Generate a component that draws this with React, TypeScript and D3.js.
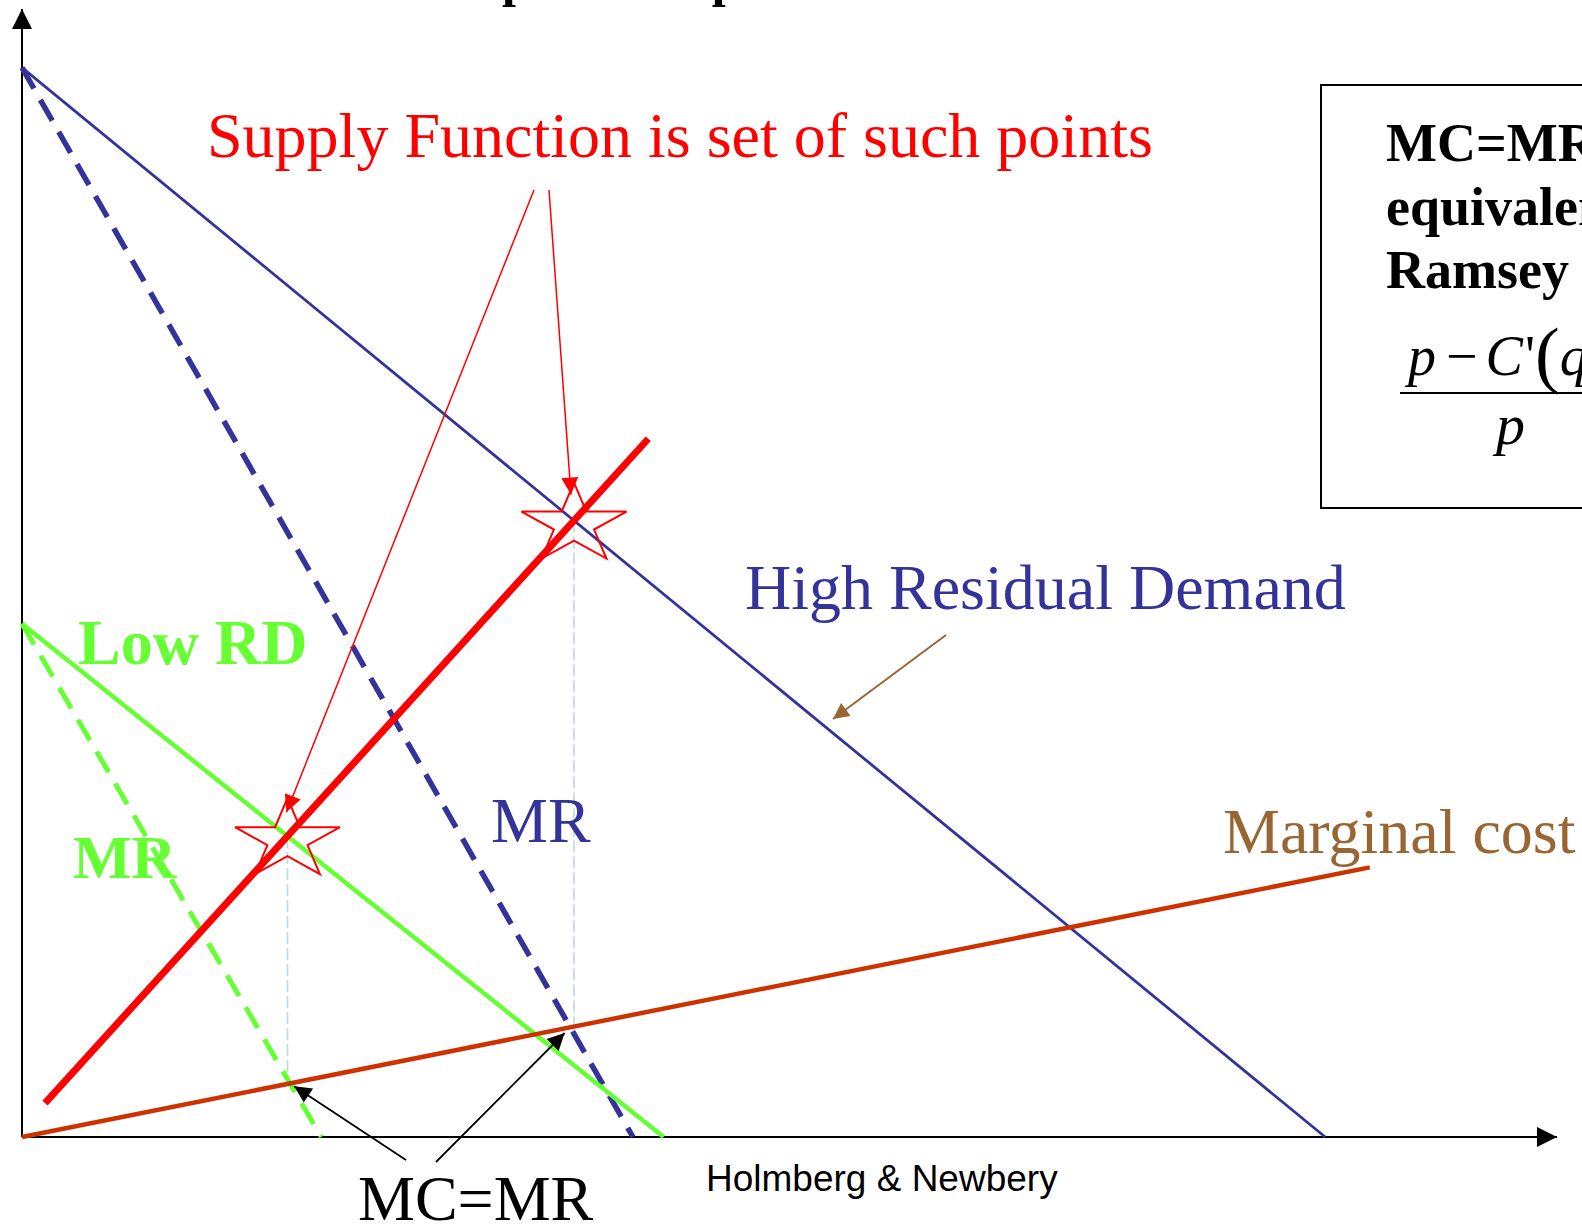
import React from 'react';
import * as d3 from 'd3';

// Diagram units: quantity q on the x axis, price p on the y axis (0..100 each)
interface Pt {
  q: number;
  p: number;
}

const axisMax = 100;

// curves
const highDemand: Pt[] = [{ q: 0, p: 94.8 }, { q: 84.9, p: 0 }];
const highMR: Pt[] = [{ q: 0, p: 94.8 }, { q: 39.8, p: 0 }];
const lowDemand: Pt[] = [{ q: 0, p: 45.5 }, { q: 41.8, p: 0 }];
const lowMR: Pt[] = [{ q: 0, p: 45.5 }, { q: 19.5, p: 0 }];
const marginalCost: Pt[] = [{ q: 0, p: 0 }, { q: 87.8, p: 23.9 }];
const supplyFunction: Pt[] = [{ q: 1.5, p: 3.0 }, { q: 40.8, p: 61.9 }];

// text
const titleLabel = 'Upward slope';
const supplyLabel = 'Supply Function is set of such points';
const highLabel = 'High Residual Demand';
const lowLabel = 'Low RD';
const mcLabel = 'Marginal cost';
const mrLabel = 'MR';
const mcmrLabel = 'MC=MR';
const creditLabel = 'Holmberg & Newbery';
const boxLines = ['MC=MR is', 'equivalent to', 'Ramsey pricing'];

const W = 1582;
const H = 1226;

const serif = "'Liberation Serif', 'Times New Roman', serif";
const sans = "'Liberation Sans', Arial, sans-serif";

const blue = '#333399';
const green = '#66ff33';
const red = '#ff0000';
const brown = '#996633';
const mcColor = '#cc3300';

// intersection of the two straight lines through segments a and b
function cross(a: Pt[], b: Pt[]): Pt {
  const s1 = (a[1].p - a[0].p) / (a[1].q - a[0].q);
  const s2 = (b[1].p - b[0].p) / (b[1].q - b[0].q);
  const c1 = a[0].p - s1 * a[0].q;
  const c2 = b[0].p - s2 * b[0].q;
  const q = (c2 - c1) / (s1 - s2);
  return { q, p: s1 * q + c1 };
}

function valueAt(seg: Pt[], q: number) {
  const s = (seg[1].p - seg[0].p) / (seg[1].q - seg[0].q);
  return seg[0].p + s * (q - seg[0].q);
}

function starPath(cx: number, cy: number, w: number, h: number) {
  const pts: [number, number][] = [];
  for (let i = 0; i < 10; i++) {
    const r = i % 2 === 0 ? 1 : 0.382;
    const a = -Math.PI / 2 + (i * Math.PI) / 5;
    pts.push([r * Math.cos(a), r * Math.sin(a)]);
  }
  const sx = w / 2 / 0.951;
  const sy = h / 1.809;
  const oy = (-1 + 0.809) / 2;
  return d3.line()(pts.map(([px, py]) => [cx + px * sx, cy + (py - oy) * sy])) + 'Z';
}

// shorten the end of a segment by d pixels
function pullBack(x0: number, y0: number, x1: number, y1: number, d: number) {
  const len = Math.hypot(x1 - x0, y1 - y0);
  return [x1 - ((x1 - x0) / len) * d, y1 - ((y1 - y0) / len) * d];
}

export default function App() {
  const x = d3.scaleLinear().domain([0, axisMax]).range([22, 1557]);
  const y = d3.scaleLinear().domain([0, axisMax]).range([1137, 9]);
  const line = d3.line<Pt>().x(d => x(d.q)).y(d => y(d.p));

  // equilibria: supply function meets each residual demand
  const eqHigh = cross(supplyFunction, highDemand);
  const eqLow = cross(supplyFunction, lowDemand);
  // MC = MR points
  const mmHigh = cross(highMR, marginalCost);
  const mmLow = cross(lowMR, marginalCost);

  const starW = 105;
  const starH = 76;
  const stars = [eqLow, eqHigh];

  const [lTipX, lTipY] = pullBack(406, 1160, x(mmLow.q), y(mmLow.p), 5);
  const [rTipX, rTipY] = pullBack(436, 1162, x(mmHigh.q), y(mmHigh.p), 8);

  const marker = (id: string, color: string, len: number, wid: number) => (
    <marker
      id={id}
      viewBox="0 0 10 10"
      refX={10}
      refY={5}
      markerUnits="userSpaceOnUse"
      markerWidth={len}
      markerHeight={wid}
      orient="auto"
    >
      <path d="M0,0 L10,5 L0,10 Z" fill={color} />
    </marker>
  );

  return (
    <svg
      width={W}
      height={H}
      style={{ position: 'absolute', left: 0, top: 0, display: 'block', background: '#fff' }}
    >
      <defs>
        {marker('axisArrow', '#000', 20, 20)}
        {marker('redArrow', red, 22, 17)}
        {marker('brownArrow', brown, 22, 16)}
        {marker('blackArrow', '#000', 22, 17)}
      </defs>

      {/* slide title, almost entirely above the frame */}
      <text x={466} y={-4} fill="#000" fontFamily={serif} fontSize={50} fontWeight="bold">
        {titleLabel}
      </text>

      {/* axes */}
      <line x1={x(0)} y1={y(0)} x2={x(0)} y2={y(axisMax)} stroke="#000" strokeWidth={2} markerEnd="url(#axisArrow)" />
      <line x1={x(0)} y1={y(0)} x2={x(axisMax)} y2={y(0)} stroke="#000" strokeWidth={2} markerEnd="url(#axisArrow)" />

      {/* guides from each equilibrium down to MC */}
      {stars.map((s, i) => (
        <line
          key={'g' + i}
          x1={x(s.q)}
          y1={y(s.p)}
          x2={x(s.q)}
          y2={y(valueAt(marginalCost, s.q))}
          stroke="#b4dde6"
          strokeWidth={1.6}
          strokeDasharray="12 4"
        />
      ))}

      {/* curves */}
      <path d={line(highMR) ?? ''} stroke={blue} strokeWidth={5.5} strokeDasharray="24 13" fill="none" />
      <path d={line(lowMR) ?? ''} stroke={green} strokeWidth={5} strokeDasharray="24 13" fill="none" />
      <path d={line(highDemand) ?? ''} stroke={blue} strokeWidth={2.8} fill="none" />
      <path d={line(lowDemand) ?? ''} stroke={green} strokeWidth={4.5} fill="none" />
      <path d={line(marginalCost) ?? ''} stroke={mcColor} strokeWidth={4.5} fill="none" />
      <path d={line(supplyFunction) ?? ''} stroke={red} strokeWidth={7} fill="none" />

      {/* stars */}
      {stars.map((s, i) => (
        <path key={'s' + i} d={starPath(x(s.q), y(s.p), starW, starH)} fill="none" stroke={red} strokeWidth={2} />
      ))}

      {/* red annotation */}
      <text x={207} y={157} fill={red} fontFamily={serif} fontSize={64}>
        {supplyLabel}
      </text>
      <line x1={534} y1={190} x2={x(eqLow.q) - 1} y2={y(eqLow.p) - starH / 2 + 14} stroke={red} strokeWidth={1.5} markerEnd="url(#redArrow)" />
      <line x1={549} y1={190} x2={x(eqHigh.q) - 3} y2={y(eqHigh.p) - starH / 2 + 12} stroke={red} strokeWidth={1.5} markerEnd="url(#redArrow)" />

      {/* demand labels */}
      <text x={745} y={609} fill={blue} fontFamily={serif} fontSize={64}>
        {highLabel}
      </text>
      <line x1={946} y1={635} x2={833} y2={719} stroke={brown} strokeWidth={2} markerEnd="url(#brownArrow)" />
      <text x={78} y={664} fill={green} fontFamily={serif} fontSize={64} fontWeight="bold">
        {lowLabel}
      </text>
      <text x={73} y={878} fill={green} fontFamily={serif} fontSize={62} fontWeight="bold">
        {mrLabel}
      </text>
      <text x={491} y={842} fill={blue} fontFamily={serif} fontSize={64}>
        {mrLabel}
      </text>
      <text x={1223} y={853} fill={brown} fontFamily={serif} fontSize={64}>
        {mcLabel}
      </text>

      {/* MC = MR */}
      <text x={358} y={1220} fill="#000" fontFamily={serif} fontSize={64}>
        {mcmrLabel}
      </text>
      <line x1={406} y1={1160} x2={lTipX} y2={lTipY} stroke="#000" strokeWidth={1.8} markerEnd="url(#blackArrow)" />
      <line x1={436} y1={1162} x2={rTipX} y2={rTipY} stroke="#000" strokeWidth={1.8} markerEnd="url(#blackArrow)" />

      <text x={706} y={1191} fill="#000" fontFamily={sans} fontSize={37}>
        {creditLabel}
      </text>

      {/* Ramsey box */}
      <rect x={1321} y={85} width={320} height={423} fill="none" stroke="#000" strokeWidth={2} />
      {boxLines.map((t, i) => (
        <text key={t} x={1386} y={161 + i * 63.5} fill="#000" fontFamily={serif} fontSize={54} fontWeight="bold">
          {t}
        </text>
      ))}
      <text x={1408} y={375} fill="#000" fontFamily={serif} fontSize={56}>
        <tspan fontStyle="italic">p</tspan>
        <tspan dx={10}>−</tspan>
        <tspan dx={8} fontStyle="italic">C</tspan>
        <tspan dx={2}>'</tspan>
        <tspan fontSize={74} dy={4}>(</tspan>
        <tspan fontStyle="italic" dy={-4}>q</tspan>
        <tspan fontSize={40} dy={10} fontStyle="italic">i</tspan>
      </text>
      <line x1={1400} y1={393} x2={1600} y2={393} stroke="#000" strokeWidth={2} />
      <text x={1496} y={444} fill="#000" fontFamily={serif} fontSize={58} fontStyle="italic">
        p
      </text>
    </svg>
  );
}
